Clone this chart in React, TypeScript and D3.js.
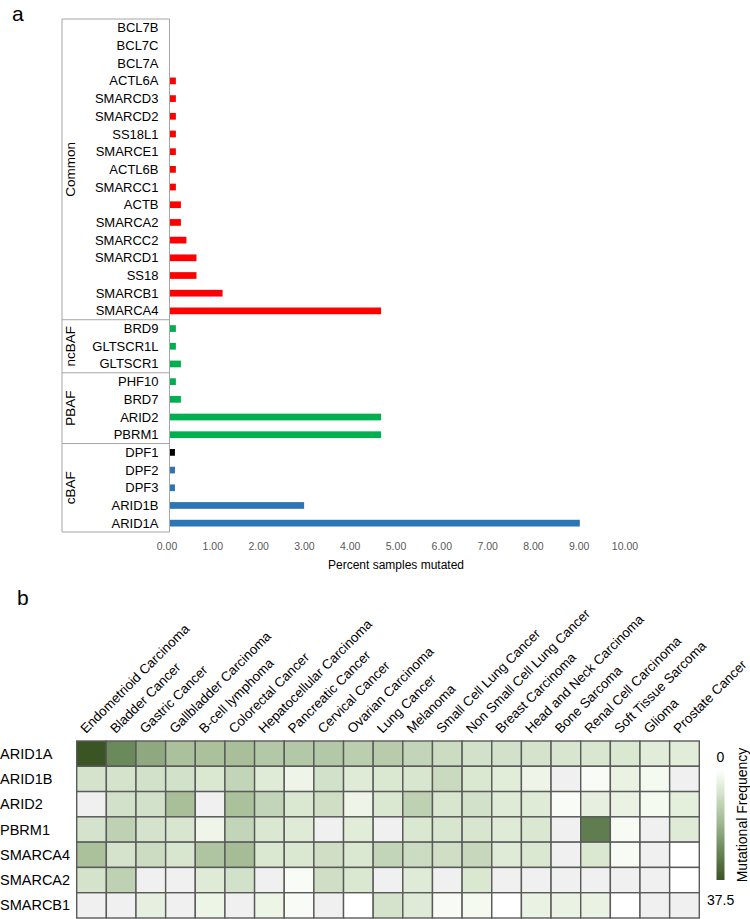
import { scaleBand, scaleLinear, range, interpolateRgb } from "d3";

// panel a: percent of samples with a mutation, per subunit
const genes = [
  "BCL7B", "BCL7C", "BCL7A", "ACTL6A", "SMARCD3", "SMARCD2", "SS18L1", "SMARCE1",
  "ACTL6B", "SMARCC1", "ACTB", "SMARCA2", "SMARCC2", "SMARCD1", "SS18", "SMARCB1",
  "SMARCA4", "BRD9", "GLTSCR1L", "GLTSCR1", "PHF10", "BRD7", "ARID2", "PBRM1",
  "DPF1", "DPF2", "DPF3", "ARID1B", "ARID1A",
];
const pctMutated = [
  0, 0, 0, 0.15, 0.15, 0.15, 0.15, 0.15,
  0.15, 0.15, 0.26, 0.26, 0.38, 0.6, 0.6, 1.17,
  4.63, 0.15, 0.15, 0.26, 0.15, 0.26, 4.63, 4.63,
  0.13, 0.13, 0.13, 2.95, 8.97,
];
const groupNames = ["Common", "ncBAF", "PBAF", "cBAF"];
const groupSizes = [17, 3, 4, 5];
const xTicks = [0, 1, 2, 3, 4, 5, 6, 7, 8, 9, 10];

// panel b: mutational frequency per cancer type (null = no data)
const cancers = [
  "Endometrioid Carcinoma", "Bladder Cancer", "Gastric Cancer", "Gallbladder Carcinoma",
  "B-cell lymphoma", "Colorectal Cancer", "Hepatocellular Carcinoma", "Pancreatic Cancer",
  "Cervical Cancer", "Ovarian Carcinoma", "Lung Cancer", "Melanoma",
  "Small Cell Lung Cancer", "Non Small Cell Lung Cancer", "Breast Carcinoma",
  "Head and Neck Carcinoma", "Bone Sarcoma", "Renal Cell Carcinoma", "Soft Tissue Sarcoma",
  "Glioma", "Prostate Cancer",
];
const heatGenes = ["ARID1A", "ARID1B", "ARID2", "PBRM1", "SMARCA4", "SMARCA2", "SMARCB1"];
const arid1a = [37.5, 27, 21, 16, 16, 16.5, 14, 14, 14, 12.5, 13, 11, 9.5, 8.5, 8.5, 8, 7.5, 7.3, 7, 5.5, 5.5];
const arid1b = [8, 8, 8.5, 8.5, 7, 11, 6, 3.2, 8.5, 6, 7, 7.5, 10, 7, 5.5, 3.2, null, 0.8, 4, 1.5, null];
const arid2 = [null, 8.5, 8.5, 16.5, null, 16, 11, 7, 9, 3.2, 7, 12, 7.5, 8.5, 6, 6, 0.8, 4.5, 4, 1.5, 5];
const pbrm1 = [8, 12, 8, 7.5, 3, 11, 7, 6, null, 5.5, null, 7, 7.5, 7.5, 6, 7, null, 29.5, 1, null, 6];
const smarca4 = [16, 8, 9.5, 7.5, 15, 17, 7, 7, 9, 7, 11, 9.5, 9, 10.5, 6, 7, null, 7, 1, null, 0];
const smarca2 = [8, 12, null, null, 6, 8.5, null, 0.8, 9, 7, null, 6, null, 7, null, null, null, null, null, null, 0];
const smarcb1 = [null, null, 4.5, null, 3.3, null, 3.3, 0.8, null, 0, 8, 6, 1, 1.5, 0, 4, 4, 4, 0, null, null];
const freqRows = [arid1a, arid1b, arid2, pbrm1, smarca4, smarca2, smarcb1];
const freqMax = 37.5;

// colour ramp, sampled from the reference legend/cells
const rampStops = [0, 1, 3.2, 6, 8, 11, 14, 16.5, 21, 27, 37.5];
const rampColors = [
  "#ffffff", "#f7fbf4", "#eef5e8", "#dfebd6", "#d5e3cc", "#c3d5b8",
  "#b3c8a6", "#a8bf9a", "#8fa880", "#6b8a5b", "#3a5424",
];

const FONT = "'Liberation Sans', Arial, sans-serif";
const groupColors: Record<string, string> = {
  Common: "#ff0000",
  ncBAF: "#00b050",
  PBAF: "#00b050",
  cBAF: "#2e75b6",
};
const geneColorOverride: Record<string, string> = { DPF1: "#000000" };

export default function App() {
  // ---- panel a scales
  const y = scaleBand<string>().domain(genes).range([19, 532]).paddingInner(0.62).paddingOuter(0.31);
  const x = scaleLinear().domain([0, 10]).range([169, 627]);
  const axisX = 169.5;
  const boxLeft = 62;

  const geneGroup: string[] = [];
  groupSizes.forEach((n, gi) => range(n).forEach(() => geneGroup.push(groupNames[gi])));
  const groupStarts = groupSizes.map((_, i) => groupSizes.slice(0, i).reduce((a, b) => a + b, 0));
  const step = y.step();
  const y0 = 19;

  // ---- panel b scales
  const hx = scaleBand<string>().domain(cancers).range([76.7, 699.3]);
  const hy = scaleBand<string>().domain(heatGenes).range([741, 918]);
  const color = scaleLinear<string>().domain(rampStops).range(rampColors).interpolate(interpolateRgb).clamp(true);
  const barTop = 770, barBottom = 880;

  return (
    <svg width={750} height={919} style={{ position: "absolute", left: 0, top: 0 }} fontFamily={FONT}>
      <defs>
        <linearGradient id="freqGrad" x1="0" y1="0" x2="0" y2="1">
          {range(0, 1.01, 0.1).map((t) => (
            <stop key={t} offset={t} stopColor={color(t * freqMax)} />
          ))}
        </linearGradient>
      </defs>

      {/* panel a */}
      <text x={12} y={21} fontSize={21}>a</text>

      {/* label box */}
      <line x1={boxLeft} x2={axisX} y1={y0} y2={y0} stroke="#a6a6a6" />
      <line x1={boxLeft} x2={boxLeft} y1={y0} y2={532} stroke="#a6a6a6" />
      {groupStarts.map((s, i) => (
        <line key={i} x1={boxLeft} x2={axisX} y1={y0 + (s + groupSizes[i]) * step} y2={y0 + (s + groupSizes[i]) * step} stroke="#a6a6a6" />
      ))}
      {groupNames.map((g, i) => {
        const cy = y0 + (groupStarts[i] + groupSizes[i] / 2) * step;
        return (
          <text key={g} transform={`translate(75,${cy}) rotate(-90)`} textAnchor="middle" fontSize={13.5}>
            {g}
          </text>
        );
      })}

      {genes.map((g, i) => (
        <g key={g}>
          <text x={158.5} y={(y(g) ?? 0) + y.bandwidth() / 2} dy="0.35em" textAnchor="end" fontSize={13}>
            {g}
          </text>
          {pctMutated[i] > 0 && (
            <rect
              x={x(0)}
              y={y(g)}
              width={x(pctMutated[i]) - x(0)}
              height={y.bandwidth()}
              fill={geneColorOverride[g] ?? groupColors[geneGroup[i]]}
            />
          )}
        </g>
      ))}
      <line x1={axisX} x2={axisX} y1={y0} y2={532} stroke="#a6a6a6" />

      {xTicks.map((t) => (
        <text key={t} x={x(t) - 2} y={546} dy="0.35em" textAnchor="middle" fontSize={10.5} fill="#595959">
          {t.toFixed(2)}
        </text>
      ))}
      <text x={396} y={565} dy="0.35em" textAnchor="middle" fontSize={12}>
        Percent samples mutated
      </text>

      {/* panel b */}
      <text x={17} y={605} fontSize={21}>b</text>

      {cancers.map((c) => (
        <text
          key={c}
          transform={`translate(${(hx(c) ?? 0) + hx.bandwidth() / 2 - 5.5},${734}) rotate(-45)`}
          fontSize={13.4}
        >
          {c}
        </text>
      ))}
      {heatGenes.map((g) => (
        <text key={g} x={0} y={(hy(g) ?? 0) + hy.bandwidth() / 2} dy="0.35em" fontSize={14.5}>
          {g}
        </text>
      ))}
      {freqRows.map((row, ri) =>
        row.map((v, ci) => (
          <rect
            key={`${ri}-${ci}`}
            x={hx(cancers[ci])}
            y={hy(heatGenes[ri])}
            width={hx.bandwidth()}
            height={hy.bandwidth()}
            fill={v === null ? "#f0f0f0" : color(v)}
            stroke="#5a5a5a"
            strokeWidth={1.4}
          />
        ))
      )}

      {/* legend */}
      <rect x={716.5} y={barTop} width={8} height={barBottom - barTop} fill="url(#freqGrad)" />
      <text x={720.5} y={757} dy="0.35em" textAnchor="middle" fontSize={14}>0</text>
      <text x={707} y={900} dy="0.35em" fontSize={14}>37.5</text>
      <text transform={`translate(742,815) rotate(-90)`} textAnchor="middle" dy="0.35em" fontSize={14}>
        Mutational Frequency
      </text>
    </svg>
  );
}
